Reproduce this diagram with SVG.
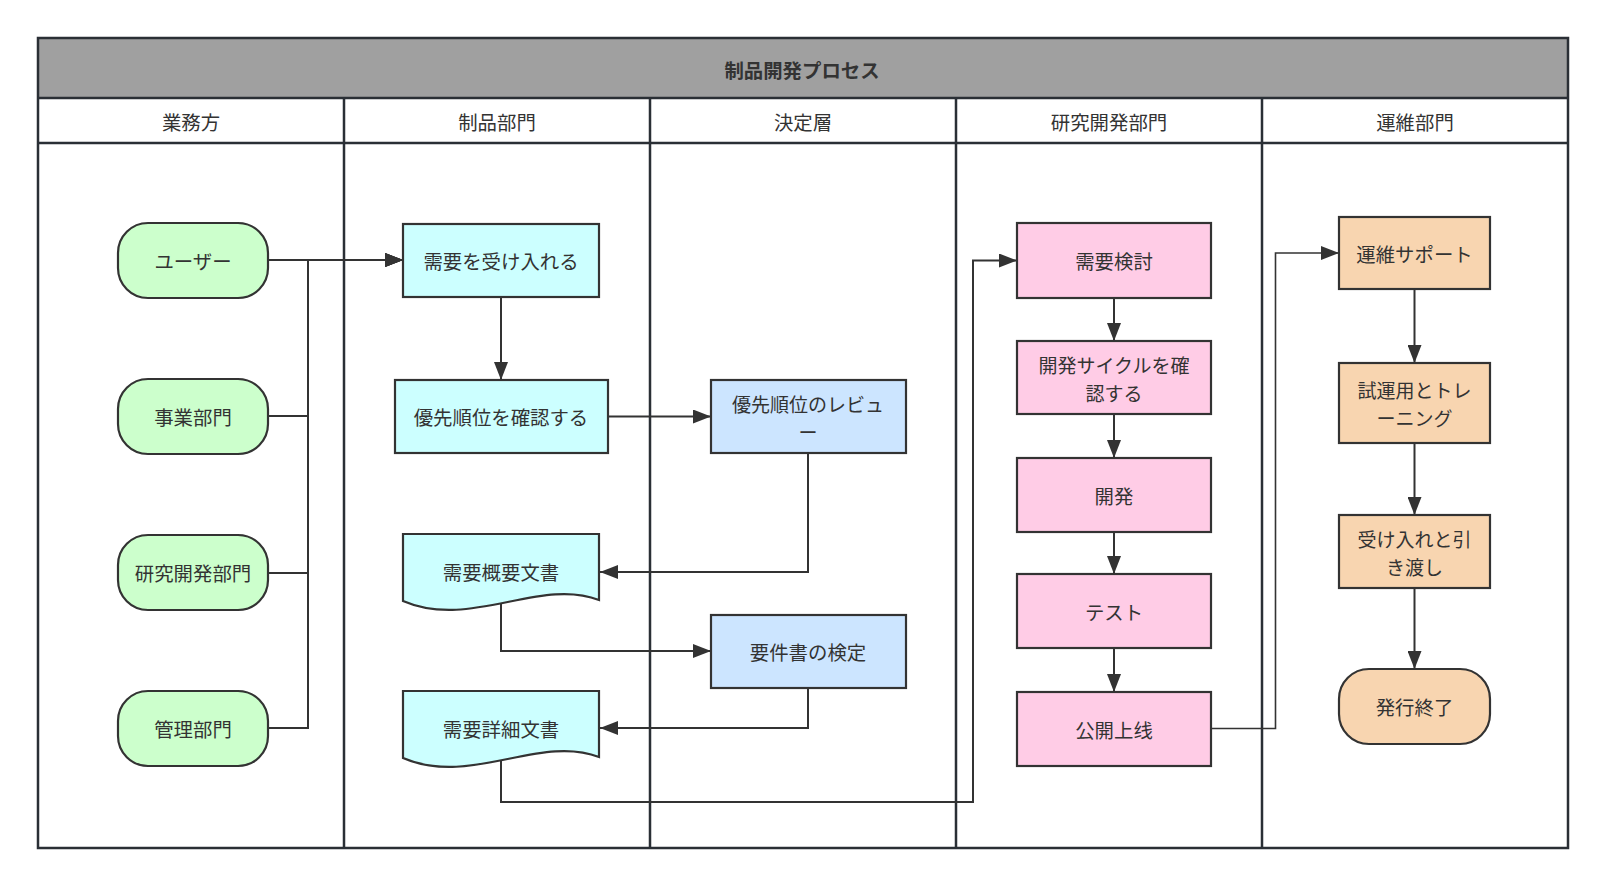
<svg xmlns="http://www.w3.org/2000/svg" width="1605" height="885" viewBox="0 0 1605 885">
<defs>
<marker id="arr" markerUnits="userSpaceOnUse" markerWidth="18" markerHeight="14" refX="18" refY="7" orient="auto">
<path d="M0,0 L18,7 L0,14 z" fill="#333"/>
</marker>
<style>
.frame{fill:none;stroke:#2a2f35;stroke-width:2.5}
.lane{stroke:#2a2f35;stroke-width:2.5}
.n{stroke:#333;stroke-width:2.2}
.green{fill:#ccffcc}
.cyan{fill:#ccffff}
.blue{fill:#cce5ff}
.pink{fill:#ffcce6}
.orange{fill:#f8d5b0}
.t{font-family:"Noto Sans CJK JP","Noto Sans CJK SC",sans-serif;font-size:19.4px;fill:#333;text-anchor:middle;dominant-baseline:central}
.t2{font-size:19px}
.title{font-weight:bold}
.ca{fill:none;stroke:#333;stroke-width:2;marker-end:url(#arr)}
</style>
</defs>
<rect width="1605" height="885" fill="#fff"/>
<g id="pool">
<rect x="38" y="38" width="1530" height="60" fill="#a0a0a0"/>
<rect class="frame" x="38" y="38" width="1530" height="810"/>
<line class="lane" x1="38" y1="98" x2="1568" y2="98"/>
<line class="lane" x1="38" y1="143" x2="1568" y2="143"/>
<line class="lane" x1="344" y1="98" x2="344" y2="848"/>
<line class="lane" x1="650" y1="98" x2="650" y2="848"/>
<line class="lane" x1="956" y1="98" x2="956" y2="848"/>
<line class="lane" x1="1262" y1="98" x2="1262" y2="848"/>
<text class="t title" x="802" y="69">制品開発プロセス</text>
<text class="t" x="191" y="121">業務方</text>
<text class="t" x="497" y="121">制品部門</text>
<text class="t" x="803" y="121">決定層</text>
<text class="t" x="1109" y="121">研究開発部門</text>
<text class="t" x="1415" y="121">運維部門</text>
</g>
<g id="connectors">
<path class="ca" d="M268,260 H403"/>
<path class="ca" d="M268,416 H308 V260 H403"/>
<path class="ca" d="M268,573 H308 V260 H403"/>
<path class="ca" d="M268,728 H308 V260 H403"/>
<path class="ca" d="M501,297 V380"/>
<path class="ca" d="M608,416.5 H711"/>
<path class="ca" d="M808,453 V572 H600"/>
<path class="ca" d="M501,604 V651 H711"/>
<path class="ca" d="M808,688 V728 H600"/>
<path class="ca" d="M501,760 V802 H973 V260.5 H1017"/>
<path class="ca" d="M1114,298 V341"/>
<path class="ca" d="M1114,414 V458"/>
<path class="ca" d="M1114,532 V574"/>
<path class="ca" d="M1114,648 V692"/>
<path class="ca" style="stroke-width:1.6" d="M1211,728.5 H1275.5 V253 H1339"/>
<path class="ca" d="M1414.5,289 V363"/>
<path class="ca" d="M1414.5,443 V515"/>
<path class="ca" d="M1414.5,588 V669"/>
</g>
<g id="n-user"><rect class="n green" x="118" y="223" width="150" height="75" rx="30" ry="30"/><text class="t" x="193" y="260.5">ユーザー</text></g>
<g id="n-biz"><rect class="n green" x="118" y="379" width="150" height="75" rx="30" ry="30"/><text class="t" x="193" y="416.5">事業部門</text></g>
<g id="n-rd"><rect class="n green" x="118" y="535" width="150" height="75" rx="30" ry="30"/><text class="t" x="193" y="572.5">研究開発部門</text></g>
<g id="n-mgmt"><rect class="n green" x="118" y="691" width="150" height="75" rx="30" ry="30"/><text class="t" x="193" y="728.5">管理部門</text></g>
<g id="n-accept"><rect class="n cyan" x="403" y="224" width="196" height="73"/><text class="t" x="501" y="260.5">需要を受け入れる</text></g>
<g id="n-prio"><rect class="n cyan" x="395" y="380" width="213" height="73"/><text class="t" x="501" y="416.5">優先順位を確認する</text></g>
<g id="n-doc1"><path class="n cyan" d="M403,534 H599 V600 C540,577 470,630 403,601 Z"/><text class="t" x="501" y="571">需要概要文書</text></g>
<g id="n-doc2"><path class="n cyan" d="M403,691 H599 V757 C540,734 470,787 403,758 Z"/><text class="t" x="501" y="728">需要詳細文書</text></g>
<g id="n-review"><rect class="n blue" x="711" y="380" width="195" height="73"/><text class="t t2"><tspan x="808" y="403">優先順位のレビュ</tspan><tspan x="808" y="431">ー</tspan></text></g>
<g id="n-check"><rect class="n blue" x="711" y="615" width="195" height="73"/><text class="t" x="808" y="651.5">要件書の検定</text></g>
<g id="n-study"><rect class="n pink" x="1017" y="223" width="194" height="75"/><text class="t" x="1114" y="260.5">需要検討</text></g>
<g id="n-cycle"><rect class="n pink" x="1017" y="341" width="194" height="73"/><text class="t t2"><tspan x="1114" y="364">開発サイクルを確</tspan><tspan x="1114" y="392">認する</tspan></text></g>
<g id="n-dev"><rect class="n pink" x="1017" y="458" width="194" height="74"/><text class="t" x="1114" y="495">開発</text></g>
<g id="n-test"><rect class="n pink" x="1017" y="574" width="194" height="74"/><text class="t" x="1114" y="611">テスト</text></g>
<g id="n-release"><rect class="n pink" x="1017" y="692" width="194" height="74"/><text class="t" x="1114" y="729">公開上线</text></g>
<g id="n-support"><rect class="n orange" x="1339" y="217" width="151" height="72"/><text class="t" x="1414.5" y="253">運維サポート</text></g>
<g id="n-trial"><rect class="n orange" x="1339" y="363" width="151" height="80"/><text class="t t2"><tspan x="1414.5" y="389">試運用とトレ</tspan><tspan x="1414.5" y="417">ーニング</tspan></text></g>
<g id="n-handover"><rect class="n orange" x="1339" y="515" width="151" height="73"/><text class="t t2"><tspan x="1414.5" y="538">受け入れと引</tspan><tspan x="1414.5" y="566">き渡し</tspan></text></g>
<g id="n-end"><rect class="n orange" x="1339" y="669" width="151" height="75" rx="30" ry="30"/><text class="t" x="1414.5" y="706.5">発行終了</text></g>
</svg>
